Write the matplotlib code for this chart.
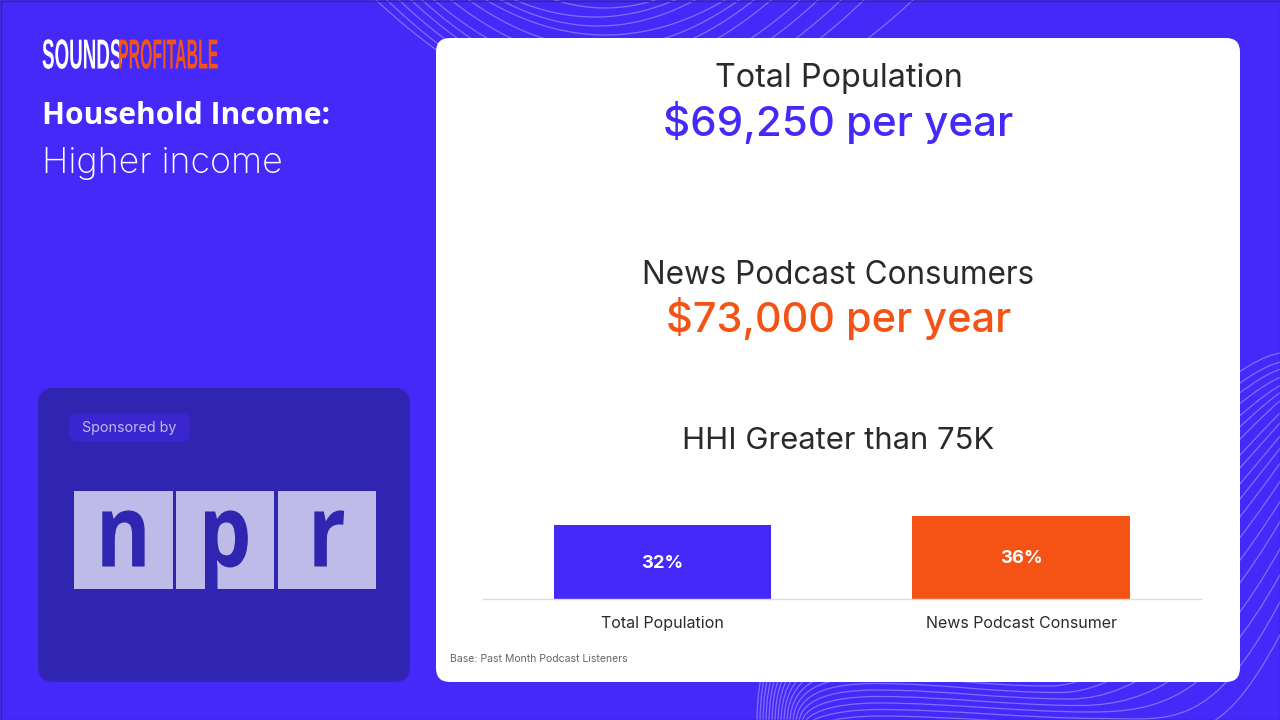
import numpy as np
import matplotlib
matplotlib.use("Agg")
import matplotlib.pyplot as plt
from matplotlib.patches import FancyBboxPatch, Rectangle, PathPatch
from matplotlib.path import Path
from matplotlib.patheffects import AbstractPathEffect
from matplotlib.transforms import Affine2D

# ---- data ----
categories = ["Total Population", "News Podcast Consumer"]
hhi_values = [32, 36]
value_labels = ["32%", "36%"]
headline_1 = "Total Population"
headline_1_value = "$69,250 per year"
headline_2 = "News Podcast Consumers"
headline_2_value = "$73,000 per year"
headline_3 = "HHI Greater than 75K"

# ---- styling ----
BLUE = "#4529F9"; ORANGE = "#F45315"; DARK = "#2F25B0"; PILL = "#3926CF"
LILAC = "#BEBBE8"; INK = "#2A2A2A"
W, H = 1280, 720
SANS = ["Inter", "DejaVu Sans"]

class VStretch(AbstractPathEffect):
    """Stretch text vertically about its baseline (condensed logo type)."""
    def __init__(self, y0, sy):
        self.y0, self.sy = y0, sy
    def draw_path(self, renderer, gc, tpath, affine, rgbFace=None):
        a = affine + Affine2D().translate(0, -self.y0).scale(1, self.sy).translate(0, self.y0)
        renderer.draw_path(gc, tpath, a, rgbFace)

fig = plt.figure(figsize=(W / 100, H / 100), dpi=100, facecolor=BLUE)
bg = fig.add_axes([0, 0, 1, 1])
bg.set_xlim(0, W); bg.set_ylim(H, 0); bg.axis("off")
bg.add_patch(Rectangle((0, 0), W, H, fc=BLUE, ec="none", zorder=0))

# ---- decorative contour lines ----
LINE = dict(color="white", alpha=0.32, lw=0.9, zorder=1)
top_left = [555, 515, 501, 486, 469, 451, 434, 422, 411, 399, 387, 376]
top_right = [655, 675, 695, 725, 739, 754, 771, 800, 818, 841, 864, 913]
top_depth = [8, 17, 26, 35, 48, 60, 72, 85, 95, 105, 115, 125]
for l, r, b in zip(top_left, top_right, top_depth):
    xs = np.linspace(l, r, 200)
    c, hw = (l + r) / 2, (r - l) / 2
    bg.plot(xs, b * (1 - ((xs - c) / hw) ** 2), **LINE)

right_end = [633, 600, 573, 547, 520, 500, 480, 462, 447, 435, 422, 412, 400, 392, 385, 377, 369, 362, 353]
right_slope = [1.9, 1.9, 1.8, 1.8, 1.7, 1.6, 1.5, 1.4, 1.3, 1.2, 1.1, 1.0, .85, .7, .55, .4, .3, .2, .1]
for k, (ye, s) in enumerate(zip(right_end, right_slope)):
    xs0 = 811 - k * 3
    yw = 722 - 6.5 * k
    xpk = 880 - k
    xtr = 1130 - 10 * k
    L = 70
    verts = [(xs0, 724), (xs0, yw + 6), (xpk - 50, yw - 6), (xpk, yw - 6),
             (xpk + 70, yw - 6), (xtr - 90, yw + 3), (xtr - 20, yw + 3),
             (xtr + 50, yw + 3), (1281 - L, ye + L * s), (1281, ye)]
    codes = [Path.MOVETO] + [Path.CURVE4] * 9
    bg.add_patch(PathPatch(Path(verts, codes), fc="none", ec="white", alpha=0.32, lw=0.9, zorder=1))

# ---- panels ----
def rbox(x0, y0, x1, y1, r, fc, z=2):
    bg.add_patch(FancyBboxPatch((x0 + r, y0 + r), x1 - x0 - 2 * r, y1 - y0 - 2 * r,
                                boxstyle=f"round,pad={r},rounding_size={r}", fc=fc, ec="none", zorder=z))

rbox(436, 38, 1240, 682, 14, "white")
rbox(38, 388, 410, 682, 16, DARK)
rbox(69, 413, 190, 442, 9, PILL, z=3)
bg.add_patch(Rectangle((0.5, 0.5), W - 1, H - 1, fc="none", ec="#33336A", lw=1, zorder=6))

# ---- left column ----
def px(s):
    return s * 0.72

LOGO_BASE = 68.5
lk = dict(family=["Liberation Sans", "DejaVu Sans"], weight="bold", va="baseline", ha="left", zorder=4)
t = bg.text(42, LOGO_BASE, "SOUNDS", color="white", fontsize=px(18.8), **lk)
t.set_path_effects([VStretch(H - LOGO_BASE, 2.23)])
t = bg.text(118, LOGO_BASE, "PROFITABLE", color=ORANGE, fontsize=px(15.9), **lk)
t.set_path_effects([VStretch(H - LOGO_BASE, 2.64)])

bg.text(42, 124, "Household Income:", family=["Open Sans", "DejaVu Sans"], weight="bold", fontsize=px(30),
        color="white", va="baseline", ha="left", zorder=4)
bg.text(42, 172.5, "Higher income", family=SANS, weight="light", fontsize=px(35.7),
        color="white", va="baseline", ha="left", zorder=4)
bg.text(129.5, 428, "Sponsored by", family=SANS, fontsize=px(14.3), color=LILAC, va="center", ha="center", zorder=4)

for x0, x1, ch in [(74, 172.7, "n"), (176, 274, "p"), (277.7, 376, "r")]:
    bg.add_patch(Rectangle((x0, 491), x1 - x0, 98, fc=LILAC, ec="none", zorder=3))
    t = bg.text((x0 + x1) / 2, 566.5, ch, family=["Open Sans", "DejaVu Sans"], weight="bold", fontsize=px(84),
                color=DARK, va="baseline", ha="center", zorder=4)
    t.set_path_effects([VStretch(H - 566.5, 1.2)])

# ---- headlines ----
for y, s, c, size, wt in [(79, headline_1, INK, 32.4, 400), (122, headline_1_value, BLUE, 42, 500),
                          (275, headline_2, INK, 31.5, 400), (319, headline_2_value, ORANGE, 41.5, 500),
                          (441, headline_3, INK, 31, 400)]:
    bg.text(838.5, y, s, family=SANS, fontsize=px(size), color=c, weight=wt, ha="center", va="center", zorder=4)
bg.text(450, 659.5, "Base: Past Month Podcast Listeners", family=SANS, fontsize=px(10.5), color="#666666",
        ha="left", va="center", zorder=4)

# ---- bar chart ----
ax = fig.add_axes([483 / W, (H - 599) / H, (1200.5 - 483) / W, 92 / H], facecolor="none", zorder=5)
ax.set_xlim(-0.5, 1.5); ax.set_ylim(0, 40)
bars = ax.bar(range(len(categories)), hhi_values, width=0.606, color=[BLUE, ORANGE])
for i, (v, s) in enumerate(zip(hhi_values, value_labels)):
    ax.text(i, v / 2 - 0.6, s, color="white", family=SANS, weight="bold", fontsize=px(18.5), ha="center", va="center")
for sp in ["top", "left", "right"]:
    ax.spines[sp].set_visible(False)
ax.spines["bottom"].set_color("#DDDDDD"); ax.spines["bottom"].set_linewidth(1)
ax.set_yticks([])
ax.set_xticks(range(len(categories)), categories, family=SANS, fontsize=px(16), color=INK)
ax.tick_params(axis="x", length=0, pad=12.5)

fig.savefig("out.png", dpi=100, facecolor=BLUE)
